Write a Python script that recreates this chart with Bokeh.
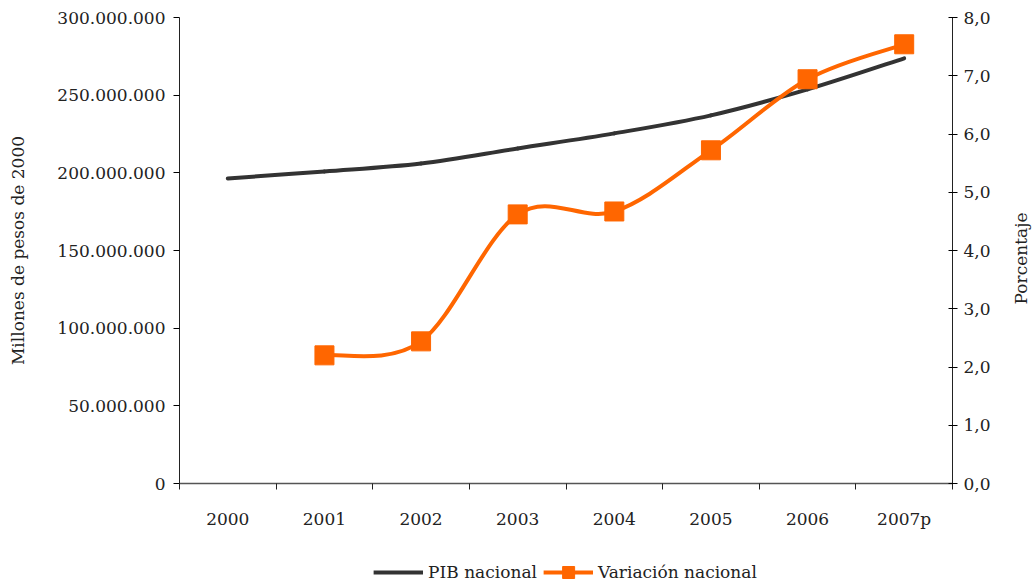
import math
from bokeh.plotting import figure
from bokeh.layouts import column, row
from bokeh.models import Range1d, LinearAxis, FixedTicker, Legend, LegendItem, ColumnDataSource, Label
from bokeh.embed import file_html
from bokeh.resources import INLINE

# ---- data ----
years = ["2000", "2001", "2002", "2003", "2004", "2005", "2006", "2007p"]
pib = [196.4e6, 200.9e6, 206.0e6, 215.7e6, 225.4e6, 237.0e6, 253.7e6, 273.7e6]
var_years = ["2001", "2002", "2003", "2004", "2005", "2006", "2007p"]
variacion = [2.20, 2.44, 4.62, 4.67, 5.72, 6.94, 7.54]
left_ticks = [0, 50e6, 100e6, 150e6, 200e6, 250e6, 300e6]
left_labels = ["0", "50.000.000", "100.000.000", "150.000.000", "200.000.000", "250.000.000", "300.000.000"]
right_ticks = [0, 1, 2, 3, 4, 5, 6, 7, 8]
right_labels = ["0,0", "1,0", "2,0", "3,0", "4,0", "5,0", "6,0", "7,0", "8,0"]

FONT = "DejaVu Serif"
FS = "17px"
TXT = "#222222"
BLACK = "#333333"
ORANGE = "#FF6600"

pos = {y: i + 0.5 for i, y in enumerate(years)}
pib_x = [pos[y] for y in years]
var_x = [pos[y] for y in var_years]


def smooth_segments(xs, ys):
    n = len(xs)
    d = dict(x0=[], y0=[], x1=[], y1=[], cx0=[], cy0=[], cx1=[], cy1=[])
    for i in range(n - 1):
        a = i - 1 if i > 0 else i
        b = i + 2 if i + 2 < n else i + 1
        d["x0"].append(xs[i]); d["y0"].append(ys[i])
        d["x1"].append(xs[i + 1]); d["y1"].append(ys[i + 1])
        d["cx0"].append(xs[i] + (xs[i + 1] - xs[a]) / 6)
        d["cy0"].append(ys[i] + (ys[i + 1] - ys[a]) / 6)
        d["cx1"].append(xs[i + 1] - (xs[b] - xs[i]) / 6)
        d["cy1"].append(ys[i + 1] - (ys[b] - ys[i]) / 6)
    return ColumnDataSource(d)


p = figure(width=1000, height=557, output_backend="svg", toolbar_location=None,
           x_range=Range1d(0, len(years)), y_range=Range1d(0, 300e6),
           min_border_left=179, min_border_right=48, min_border_top=17, min_border_bottom=74)
p.extra_y_ranges = {"right": Range1d(0, 8)}
p.outline_line_color = None
p.xgrid.visible = False
p.ygrid.visible = False
p.background_fill_color = "white"
p.border_fill_color = "white"

# x axis: labels centred, tick marks at category boundaries
xa = p.xaxis[0]
xa.ticker = FixedTicker(ticks=pib_x, minor_ticks=list(range(len(years) + 1)))
xa.major_label_overrides = {pos[y]: y for y in years}
xa.major_tick_line_color = None
xa.minor_tick_in = 0
xa.minor_tick_out = 6
xa.minor_tick_line_color = TXT
xa.axis_line_color = "#555555"
xa.axis_line_width = 1.5
xa.major_label_standoff = 19
xa.major_label_text_font = FONT
xa.major_label_text_font_size = FS
xa.major_label_text_color = TXT

ya = p.yaxis[0]
ya.ticker = FixedTicker(ticks=left_ticks)
ya.major_label_overrides = {t: l for t, l in zip(left_ticks, left_labels)}
ya.major_tick_in = 0
ya.major_tick_out = 6
ya.minor_tick_line_color = None
ya.axis_line_color = TXT
ya.major_label_text_font = FONT
ya.major_label_text_font_size = FS
ya.major_label_text_color = TXT
ya.major_label_standoff = 8
ya.axis_label = "Millones de pesos de 2000"
ya.axis_label_text_font = FONT
ya.axis_label_text_font_size = FS
ya.axis_label_text_font_style = "normal"
ya.axis_label_text_color = TXT
ya.axis_label_standoff = 26

ra = LinearAxis(y_range_name="right", ticker=FixedTicker(ticks=right_ticks))
ra.major_label_overrides = {t: l for t, l in zip(right_ticks, right_labels)}
ra.major_tick_in = 4
ra.major_tick_out = 5
ra.minor_tick_line_color = None
ra.axis_line_color = TXT
ra.major_label_text_font = FONT
ra.major_label_text_font_size = FS
ra.major_label_text_color = TXT
ra.major_label_standoff = 6
p.add_layout(ra, "right")

pib_src = smooth_segments(pib_x, pib)
p.bezier(x0="x0", y0="y0", x1="x1", y1="y1", cx0="cx0", cy0="cy0", cx1="cx1", cy1="cy1",
         source=pib_src, line_color=BLACK, line_width=4, line_cap="round")

var_src = smooth_segments(var_x, variacion)
p.bezier(x0="x0", y0="y0", x1="x1", y1="y1", cx0="cx0", cy0="cy0", cx1="cx1", cy1="cy1",
         source=var_src, line_color=ORANGE, line_width=4, line_cap="round", y_range_name="right")
p.scatter(x=var_x, y=variacion, marker="square", size=19,
          fill_color=ORANGE, line_color=ORANGE, y_range_name="right")

# right-hand axis title strip (reads bottom to top)
tf = figure(width=35, height=557, output_backend="svg", toolbar_location=None,
            x_range=Range1d(0, 35), y_range=Range1d(0, 1),
            x_axis_location=None, y_axis_location=None,
            min_border_left=0, min_border_right=0, min_border_top=17, min_border_bottom=74)
tf.outline_line_color = None
tf.xgrid.visible = False
tf.ygrid.visible = False
tf.add_layout(Label(x=20, y=0.5, y_offset=-8, text="Porcentaje", angle=math.pi / 2,
                    text_align="center", text_baseline="middle",
                    text_font=FONT, text_font_size=FS, text_color=TXT))

# legend strip below the chart (proxy renderers lie outside the strip's ranges)
lg = figure(width=1035, height=30, output_backend="svg", toolbar_location=None,
            x_range=Range1d(-20, -10), y_range=Range1d(-20, -10),
            x_axis_location=None, y_axis_location=None,
            min_border_left=95, min_border_right=0, min_border_top=0, min_border_bottom=0)
lg.outline_line_color = None
lg.xgrid.visible = False
lg.ygrid.visible = False
k_pib = lg.line(x=pib_x, y=[v / 1e8 for v in pib], line_color=BLACK, line_width=4)
k_var = lg.line(x=var_x, y=variacion, line_color=ORANGE, line_width=4)
k_sq = lg.scatter(x=var_x, y=variacion, marker="square", size=19, fill_color=ORANGE, line_color=ORANGE)
legend = Legend(items=[LegendItem(label="PIB nacional", renderers=[k_pib]),
                       LegendItem(label="Variación nacional", renderers=[k_var, k_sq])],
                orientation="horizontal", location="center",
                label_text_font=FONT, label_text_font_size=FS, label_text_color=TXT,
                glyph_width=50, glyph_height=30, spacing=6, label_standoff=5,
                border_line_color=None, background_fill_alpha=0, margin=0, padding=0)
lg.add_layout(legend, "center")

open("out.html", "w").write(file_html(column(row(p, tf, spacing=0), lg, spacing=0), INLINE))
